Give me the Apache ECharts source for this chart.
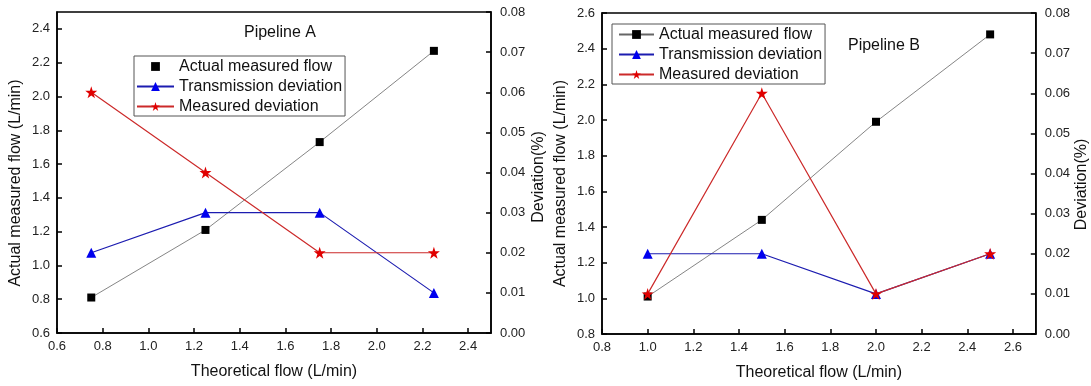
<!DOCTYPE html>
<html>
<head>
<meta charset="utf-8">
<script src="https://cdn.jsdelivr.net/npm/echarts@6/dist/echarts.min.js"></script>
<style>html,body{margin:0;padding:0;background:#fff;}#c{width:1091px;height:386px;}</style>
</head>
<body>
<div id="c"></div>
<script>
// Pipeline A
const flowA = [0.75, 1.25, 1.75, 2.25];
const actualA = [0.81, 1.21, 1.73, 2.27];
const transA = [0.02, 0.03, 0.03, 0.01];
const measA = [0.06, 0.04, 0.02, 0.02];
// Pipeline B
const flowB = [1.0, 1.5, 2.0, 2.5];
const actualB = [1.01, 1.44, 1.99, 2.48];
const transB = [0.02, 0.02, 0.01, 0.02];
const measB = [0.01, 0.06, 0.01, 0.02];

const names = ['Actual measured flow', 'Transmission deviation', 'Measured deviation'];
const titles = ['Pipeline A', 'Pipeline B'];
const xName = 'Theoretical flow (L/min)';
const yName = 'Actual measured flow (L/min)';
const y2Name = 'Deviation(%)';

const FONT = "'Liberation Sans', Arial, sans-serif";
const pair = (xs, ys) => xs.map((x, i) => [x, ys[i]]);

function xAxis(grid, min, max) {
  return {
    type: 'value', gridIndex: grid, min: min, max: max, interval: 0.2,
    name: xName, nameLocation: 'middle', nameGap: 31,
    nameTextStyle: {fontFamily: FONT, fontSize: 16, color: '#111'},
    axisLine: {show: true, lineStyle: {color: '#000', width: 1.5}},
    axisTick: {show: true, inside: true, length: 5, lineStyle: {color: '#000', width: 1.5}},
    axisLabel: {fontFamily: FONT, fontSize: 13, color: '#222', margin: 7, showMaxLabel: false,
      formatter: v => v.toFixed(1)},
    splitLine: {show: false}
  };
}
function yLeft(grid, min, max, showMax, pad) {
  return {
    type: 'value', gridIndex: grid, position: 'left', min: min, max: max, interval: 0.2,
    name: yName, nameLocation: 'middle', nameGap: 33,
    nameTextStyle: {fontFamily: FONT, fontSize: 16, color: '#111', padding: [0, pad, 0, 0]},
    axisLine: {show: true, lineStyle: {color: '#000', width: 1.5}},
    axisTick: {show: true, inside: true, length: 5, lineStyle: {color: '#000', width: 1.5}},
    axisLabel: {fontFamily: FONT, fontSize: 13, color: '#222', margin: 7, showMaxLabel: showMax,
      formatter: v => v.toFixed(1)},
    splitLine: {show: false}
  };
}
function yRight(grid, gap, pad) {
  return {
    type: 'value', gridIndex: grid, position: 'right', min: 0, max: 0.08, interval: 0.01,
    name: y2Name, nameLocation: 'middle', nameGap: gap,
    nameTextStyle: {fontFamily: FONT, fontSize: 16, color: '#111', padding: [0, pad, 0, 0]},
    axisLine: {show: true, lineStyle: {color: '#000', width: 1.5}},
    axisTick: {show: true, inside: true, length: 5, lineStyle: {color: '#000', width: 1.5}},
    axisLabel: {fontFamily: FONT, fontSize: 13, color: '#222', margin: 9,
      formatter: v => v.toFixed(2)},
    splitLine: {show: false}
  };
}
function seriesSet(xi, yl, yr, xs, act, tr, me) {
  return [
    {name: names[0], type: 'line', xAxisIndex: xi, yAxisIndex: yl, data: pair(xs, act),
      symbol: 'rect', symbolSize: 8, itemStyle: {color: '#000'},
      lineStyle: {color: '#666', width: 0.8}, z: 2},
    {name: names[1], type: 'line', xAxisIndex: xi, yAxisIndex: yr, data: pair(xs, tr),
      symbol: 'triangle', symbolSize: 10, itemStyle: {color: '#0000ee'},
      lineStyle: {color: '#1c1cb0', width: 1.2}, z: 3},
    {name: names[2], type: 'line', xAxisIndex: xi, yAxisIndex: yr, data: pair(xs, me),
      symbol: 'path://M50,0L61.8,36.2L100,36.2L69.1,58.6L80.9,95.1L50,72.6L19.1,95.1L30.9,58.6L0,36.2L38.2,36.2Z',
      symbolSize: 12, itemStyle: {color: '#e00000'},
      lineStyle: {color: '#cc2a2a', width: 1.2}, z: 4}
  ];
}
function legend(left, top, padL, itemW, first) {
  return {
    orient: 'vertical', left: left, top: top, itemWidth: itemW, itemHeight: 11, itemGap: 1,
    padding: [1, 3, 0, padL], borderColor: '#555', borderWidth: 1,
    textStyle: {fontFamily: FONT, fontSize: 16, color: '#111', lineHeight: 19},
    data: [first, names[1], names[2]]
  };
}

const chart = echarts.init(document.getElementById('c'), null, {renderer: 'canvas'});
chart.setOption({
  animation: false,
  backgroundColor: '#fff',
  title: [
    {text: titles[0], left: 280, top: 24, padding: 0, textAlign: 'center',
      textStyle: {fontFamily: FONT, fontSize: 16, fontWeight: 'normal', color: '#111', lineHeight: 18}},
    {text: titles[1], left: 884, top: 37, padding: 0, textAlign: 'center',
      textStyle: {fontFamily: FONT, fontSize: 16, fontWeight: 'normal', color: '#111', lineHeight: 18}}
  ],
  legend: [
    legend(134, 56, 2, 37, {name: names[0], lineStyle: {opacity: 0}}),
    legend(612, 24, 6, 35, names[0])
  ],
  grid: [
    {left: 57, right: 600, top: 12, bottom: 53, show: true, borderColor: '#000', borderWidth: 1.5, containLabel: false},
    {left: 602, right: 55, top: 13, bottom: 49, show: true, borderColor: '#000', borderWidth: 1.5, containLabel: false}
  ],
  xAxis: [xAxis(0, 0.6, 2.5), xAxis(1, 0.8, 2.7)],
  yAxis: [yLeft(0, 0.6, 2.5, false, 21), yRight(0, 40, 9), yLeft(1, 0.8, 2.6, true, 20), yRight(1, 38, 22)],
  series: [].concat(
    seriesSet(0, 0, 1, flowA, actualA, transA, measA),
    seriesSet(1, 2, 3, flowB, actualB, transB, measB)
  )
});
</script>
</body>
</html>
